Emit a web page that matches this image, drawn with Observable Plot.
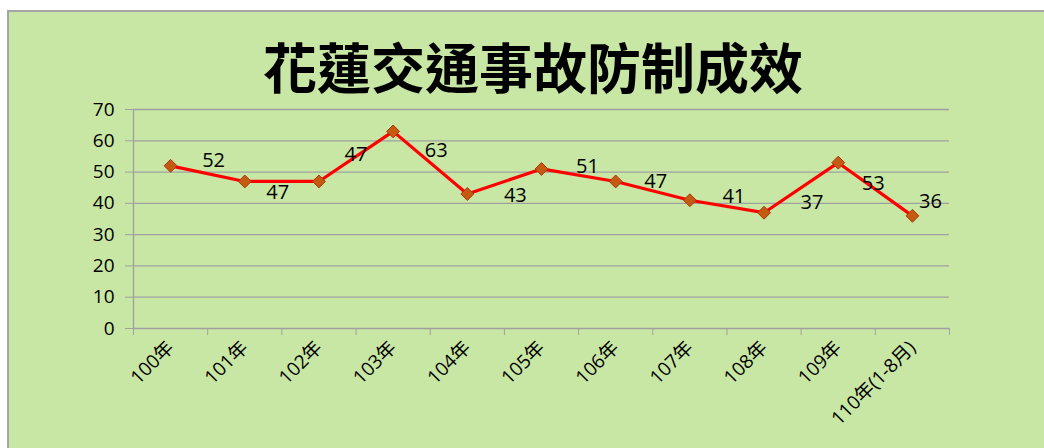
<!DOCTYPE html>
<html><head><meta charset="utf-8">
<script src="https://cdn.jsdelivr.net/npm/d3@7"></script>
<script src="https://cdn.jsdelivr.net/npm/@observablehq/plot@0.6"></script>
<style>
html,body{margin:0;padding:0;background:#fff;width:1044px;height:448px;overflow:hidden;}
#frame{position:absolute;left:7px;top:10px;width:1100px;height:500px;background:#c8e6a4;border-top:2px solid #a5a5a5;border-left:2px solid #a5a5a5;}
#title{position:absolute;left:0;top:39px;width:1066px;text-align:center;font-family:"Noto Sans CJK TC";font-weight:700;font-size:54px;line-height:54px;color:#000;}
#chart{position:absolute;left:0;top:100px;}
</style></head><body>
<div id="frame"></div>
<div id="title">花蓮交通事故防制成效</div>
<div id="chart"></div>
<script>
const categories = ["100年","101年","102年","103年","104年","105年","106年","107年","108年","109年","110年(1-8月)"];
const values = [52, 47, 47, 63, 43, 51, 47, 41, 37, 53, 36];
const yTicks = [0, 10, 20, 30, 40, 50, 60, 70];
// data-label offsets from their points (px), as placed in the original
const labelDx = [43, 33, 37, 43, 48, 46, 40, 44, 48, 35, 18];
const labelDy = [-5, 11, -27, 19, 2, -2, 0, -4, -10, 21, -14];

const data = categories.map((c, i) => ({c, x: i + 0.5, v: values[i]}));
const font = '"Open Sans", "Noto Sans CJK TC", sans-serif';

const labelMarks = data.map((d, i) => Plot.text([d], {
  x: "x", y: "v", text: d => String(d.v),
  dx: labelDx[i], dy: labelDy[i],
  fontSize: 20, fill: "#000", textAnchor: "middle", lineAnchor: "middle"
}));

const chart = Plot.plot({
  width: 1044,
  height: 348,
  marginLeft: 133,
  marginRight: 95,
  marginTop: 9,
  marginBottom: 120,
  style: {fontFamily: font, background: "transparent", overflow: "visible", color: "#000"},
  x: {type: "linear", domain: [0, categories.length]},
  y: {domain: [0, 70]},
  marks: [
    Plot.ruleY(yTicks.filter(d => d > 0), {stroke: "#a0a0a0", strokeWidth: 1.3}),
    Plot.ruleY([0], {stroke: "#a0a0a0", strokeWidth: 1.3}),
    Plot.ruleX([0], {stroke: "#a0a0a0", strokeWidth: 1.3}),
    Plot.axisY({ticks: yTicks, tickSize: 8, tickPadding: 11, stroke: "#a0a0a0", fill: "#000", fontSize: 19, label: null, tickFormat: d => String(d)}),
    Plot.axisX({ticks: d3.range(0, categories.length + 1), tickFormat: () => "", tickSize: 7, stroke: "#a0a0a0", label: null}),
    Plot.axisX({ticks: data.map(d => d.x), tickFormat: x => categories[Math.floor(x)], tickSize: 0, tickRotate: -45, tickPadding: 16, fontSize: 19, fill: "#000", label: null}),
    Plot.line(data, {x: "x", y: "v", stroke: "#ff0000", strokeWidth: 3.2}),
    Plot.dot(data, {x: "x", y: "v", symbol: "diamond2", r: 5.8, fill: "#c55a11", stroke: "#a8380e", strokeWidth: 1}),
    ...labelMarks
  ]
});
document.getElementById("chart").appendChild(chart);
</script>
</body></html>
